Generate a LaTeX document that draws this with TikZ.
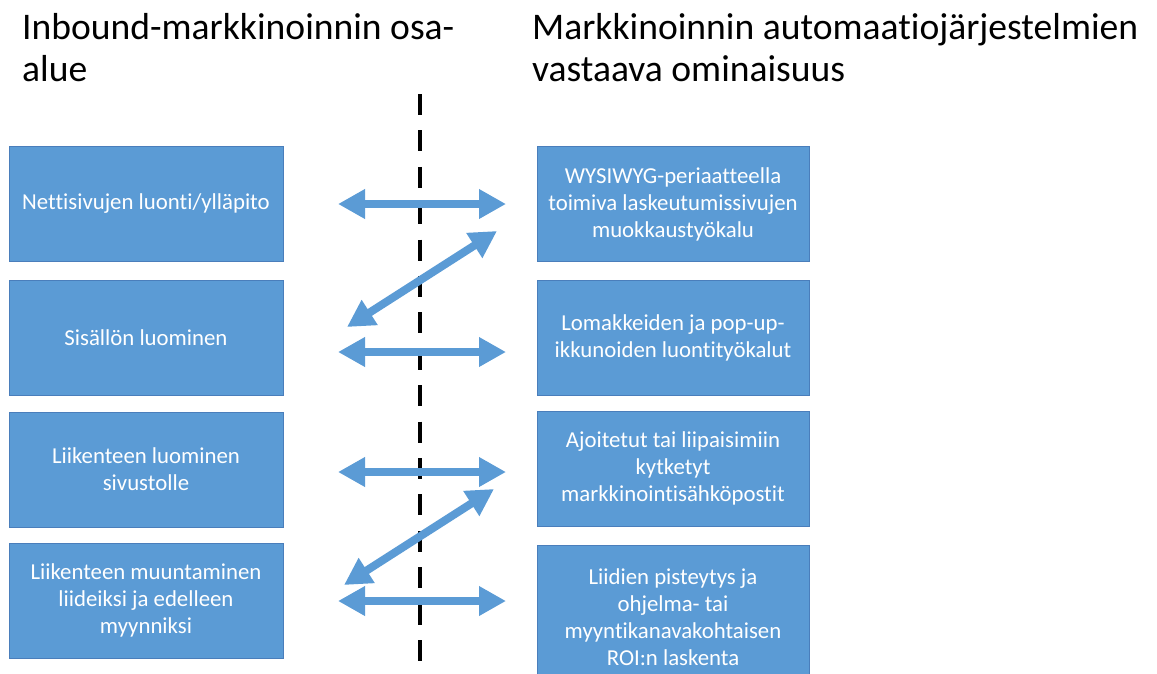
\documentclass[tikz,border=0pt]{standalone}
\usepackage{fontspec}
\setmainfont{Carlito}[Ligatures={NoCommon}]
\usetikzlibrary{arrows.meta}
\definecolor{boxblue}{HTML}{5B9BD5}
\definecolor{boxedge}{HTML}{4A7EBB}
\tikzset{
  box/.style={draw=boxedge, line width=0.8pt, fill=boxblue, text=white, align=center,
    inner sep=0pt, font=\fontsize{22.8}{27}\selectfont},
  lbox/.style={box, minimum width=274pt, minimum height=115pt},
  rbox/.style={box, minimum width=272pt, minimum height=115pt},
  title/.style={anchor=base west, align=left, inner sep=0pt, font=\fontsize{37.6}{42}\selectfont},
  dblarrow/.style={draw=boxblue, line width=8pt,
    {Triangle[length=27pt,width=28pt]}-{Triangle[length=27pt,width=28pt]}},
  divider/.style={draw=black, line width=4.5pt, dash pattern=on 21pt off 15.4pt}
}
\begin{document}
\begin{tikzpicture}[x=1pt,y=-1pt]
\useasboundingbox (0,0) rectangle (1157,673);
\clip (0,0) rectangle (1157,673);
% titles
\node[title] (t1) at (22,81) {Inbound-markkinoinnin osa-\\alue};
\node[title] (t2) at (532,81) {Markkinoinnin automaatiojärjestelmien\\vastaava ominaisuus};
% divider
\coordinate (d1) at (420,94);
\coordinate (d2) at (420,661);
\draw[divider] (d1) -- (d2);
% left boxes
\node[lbox] (l1) at (146,204) {Nettisivujen luonti/ylläpito};
\node[lbox] (l2) at (146,337.5) {Sisällön luominen};
\node[lbox] (l3) at (146,469.5) {Liikenteen luominen\\sivustolle};
\node[lbox] (l4) at (146,600.5) {Liikenteen muuntaminen\\liideiksi ja edelleen\\myynniksi};
% right boxes
\node[rbox] (r1) at (673,204) {WYSIWYG-periaatteella\\toimiva laskeutumissivujen\\muokkaustyökalu};
\node[rbox] (r2) at (673,337.5) {Lomakkeiden ja pop-up-\\ikkunoiden luontityökalut};
\node[rbox] (r3) at (673,468.5) {Ajoitetut tai liipaisimiin\\kytketyt\\markkinointisähköpostit};
\node[rbox, minimum height=144pt] (r4) at (673,617) {Liidien pisteytys ja\\ohjelma- tai\\myyntikanavakohtaisen\\ROI:n laskenta};
% arrow end points
\coordinate (a1l) at (338,204);  \coordinate (a1r) at (506,204);
\coordinate (b1l) at (347,327);  \coordinate (b1r) at (497,231);
\coordinate (a2l) at (338,352);  \coordinate (a2r) at (506,352);
\coordinate (a3l) at (338,472);  \coordinate (a3r) at (506,472);
\coordinate (b2l) at (344,585);  \coordinate (b2r) at (494,489);
\coordinate (a4l) at (338,601);  \coordinate (a4r) at (506,601);
\draw[dblarrow] (a1l) -- (a1r);
\draw[dblarrow] (b1l) -- (b1r);
\draw[dblarrow] (a2l) -- (a2r);
\draw[dblarrow] (a3l) -- (a3r);
\draw[dblarrow] (b2l) -- (b2r);
\draw[dblarrow] (a4l) -- (a4r);
\end{tikzpicture}
\end{document}
